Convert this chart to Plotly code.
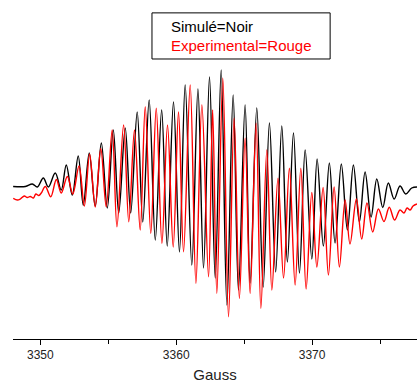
import plotly.graph_objects as go

# Simulated spectrum (black): field positions (Gauss) of extrema and intensities (a.u.)
sim_gauss = [3348.00, 3348.90, 3349.41, 3349.78, 3350.22, 3350.59, 3351.10, 3351.54, 3351.91, 3352.35,
             3352.79, 3353.16, 3353.60, 3354.04, 3354.49, 3354.93, 3355.37, 3355.77, 3356.25, 3356.65,
             3357.13, 3357.54, 3358.01, 3358.46, 3358.93, 3359.34, 3359.80, 3360.24, 3360.66, 3361.15,
             3361.60, 3362.01, 3362.45, 3362.87, 3363.31, 3363.73, 3364.19, 3364.58, 3365.07, 3365.44,
             3365.93, 3366.40, 3366.86, 3367.32, 3367.77, 3368.18, 3368.63, 3369.07, 3369.49, 3369.98,
             3370.37, 3370.83, 3371.27, 3371.69, 3372.15, 3372.60, 3373.04, 3373.48, 3373.90, 3374.34,
             3374.76, 3375.20, 3375.61, 3376.04, 3376.47, 3376.89, 3377.33, 3377.72]
sim_int = [-0.5, -0.5, 2, -1, 8, -1, 13, -4, 21, -9,
           30, -19, 33, -20, 43, -22, 56, -27, 58, -27,
           74, -36, 86, -54, 76, -60, 84, -66, 101, -79,
           97, -82, 109, -92, 116, -119, 91, -104, 81, -97,
           78, -101, 63, -86, 60, -76, 53, -87, 36, -73,
           27, -60, 23, -57, 22, -44, 21, -36, 14, -31,
           7, -21.5, 3, -13, 0, -8, -2, -1]

# Experimental spectrum (red)
exp_gauss = [3348.01, 3348.31, 3348.53, 3348.82, 3349.04, 3349.26, 3349.49, 3349.67, 3349.89, 3350.07,
             3350.37, 3350.77, 3351.18, 3351.54, 3351.99, 3352.39, 3352.85, 3353.24, 3353.63, 3354.04,
             3354.45, 3354.85, 3355.29, 3355.64, 3356.13, 3356.51, 3356.93, 3357.35, 3357.72, 3358.13,
             3358.53, 3358.95, 3359.36, 3359.78, 3360.17, 3360.54, 3361.03, 3361.45, 3361.89, 3362.38,
             3362.68, 3362.99, 3363.43, 3363.85, 3364.26, 3364.65, 3365.07, 3365.44, 3365.88, 3366.23,
             3366.67, 3367.04, 3367.49, 3367.90, 3368.33, 3368.75, 3369.17, 3369.56, 3369.98, 3370.35,
             3370.81, 3371.20, 3371.62, 3372.01, 3372.43, 3372.79, 3373.26, 3373.65, 3374.04, 3374.46,
             3374.88, 3375.29, 3375.68, 3376.07, 3376.47, 3376.76, 3376.99, 3377.21, 3377.43, 3377.72]
exp_int = [-12.3, -14, -13, -10, -11.5, -10.5, -12, -8, -9.5, -7,
           -0.5, -10.7, 6.5, -7, 9.5, -8, 20, -20, 32, -21,
           37.5, -20.7, 56, -40.7, 61, -35.7, 56, -44, 79.3, -47.3,
           77.7, -57.3, 61, -61, 74, -65.7, 101, -97.3, 81, -90.7,
           76, -107.3, 107.7, -130.7, 67.7, -112.3, 47.7, -107.3, 62.7, -122.3,
           36, -104, 7.7, -92, 17.7, -99, 17.7, -103, -6.5, -81,
           -1.5, -89, -1, -81, -14, -58, -13, -53, -17, -46,
           -23, -35.5, -21.3, -34, -24, -27, -22, -24, -20, -18]

x_range = [3347.99, 3377.72]
y_range = [-153, 186]
tick_vals = [3350, 3360, 3370]
tick_text = ["3350", "3360", "3370"]
x_title = "Gauss"
legend_lines = ["Simulé=Noir", "Experimental=Rouge"]

FONT = "Liberation Sans, Arial, sans-serif"

fig = go.Figure()
fig.add_trace(go.Scatter(x=sim_gauss, y=sim_int, mode="lines",
                         line=dict(color="black", width=1.4, shape="spline", smoothing=1.0),
                         showlegend=False, hoverinfo="skip"))
fig.add_trace(go.Scatter(x=exp_gauss, y=exp_int, mode="lines",
                         line=dict(color="red", width=1.4, shape="spline", smoothing=1.0),
                         showlegend=False, hoverinfo="skip"))

fig.update_layout(
    width=417, height=383,
    margin=dict(l=13, r=0, t=0, b=44),
    paper_bgcolor="white", plot_bgcolor="white",
    font=dict(family=FONT, color="black"),
    xaxis=dict(range=x_range, showgrid=False, zeroline=False,
               showline=True, linecolor="black", linewidth=1,
               ticks="outside", ticklen=5, tickwidth=1, tickcolor="black",
               tickvals=tick_vals, ticktext=tick_text,
               tickfont=dict(size=12, family=FONT, color="#222"),
               minor=dict(ticks="outside", ticklen=4, dtick=5, tick0=3350, tickcolor="black", showgrid=False),
               title=dict(text=x_title, font=dict(size=15, family=FONT, color="#222"), standoff=10),
               automargin=False),
    yaxis=dict(range=y_range, visible=False),
)

# legend box
fig.add_shape(type="rect", xref="paper", yref="paper",
              x0=0.344, x1=0.785, y0=0.826, y1=0.962,
              line=dict(color="black", width=1), fillcolor="white", layer="above")
fig.add_annotation(xref="paper", yref="paper", x=0.386, y=0.923, xanchor="left", yanchor="middle",
                   text=legend_lines[0], showarrow=False, font=dict(size=15, family=FONT, color="black"))
fig.add_annotation(xref="paper", yref="paper", x=0.386, y=0.867, xanchor="left", yanchor="middle",
                   text=legend_lines[1], showarrow=False, font=dict(size=15, family=FONT, color="red"))

fig.write_html("out.html", config={"displayModeBar": False},
               post_script="document.body.style.margin='0';document.body.style.overflow='hidden';")
